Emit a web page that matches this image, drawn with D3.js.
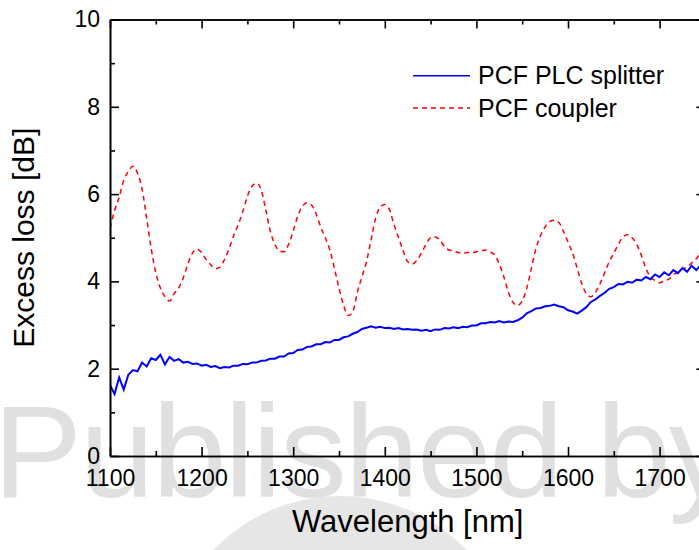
<!DOCTYPE html>
<html>
<head>
<meta charset="utf-8">
<script src="https://cdn.jsdelivr.net/npm/d3@7"></script>
<style>
  body { margin: 0; background: #fff; }
  svg { display: block; font-family: 'Liberation Sans', Arial, Helvetica, sans-serif; }
</style>
</head>
<body>
<div id="wrapper"></div>
<script>
// wavelength grid, 5 nm steps (1100 .. 1750)
const wavelengths = d3.range(1100, 1751, 5)

// PCF PLC splitter, excess loss [dB]
const splitterLoss = [
  1.62, 1.42, 1.80, 1.52, 1.86, 1.97, 1.94, 2.14, 2.05, 2.24,
  2.20, 2.32, 2.10, 2.27, 2.18, 2.22, 2.14, 2.16, 2.11, 2.12,
  2.07, 2.09, 2.04, 2.06, 2.01, 2.04, 2.03, 2.07, 2.07, 2.11,
  2.10, 2.14, 2.14, 2.18, 2.19, 2.23, 2.23, 2.28, 2.28, 2.35,
  2.36, 2.43, 2.44, 2.50, 2.51, 2.56, 2.56, 2.61, 2.60, 2.66,
  2.66, 2.72, 2.74, 2.80, 2.84, 2.91, 2.94, 2.97, 2.94, 2.96,
  2.93, 2.94, 2.91, 2.93, 2.90, 2.91, 2.89, 2.90, 2.87, 2.89,
  2.86, 2.90, 2.89, 2.93, 2.92, 2.95, 2.93, 2.96, 2.95, 2.99,
  2.99, 3.04, 3.04, 3.07, 3.06, 3.09, 3.06, 3.08, 3.07, 3.11,
  3.17, 3.27, 3.32, 3.38, 3.39, 3.43, 3.44, 3.47, 3.43, 3.41,
  3.34, 3.31, 3.26, 3.33, 3.41, 3.53, 3.59, 3.67, 3.74, 3.83,
  3.87, 3.94, 3.93, 3.99, 3.97, 4.04, 4.02, 4.10, 4.05, 4.16,
  4.10, 4.21, 4.14, 4.26, 4.19, 4.31, 4.22, 4.36, 4.26, 4.38,
  4.28
]

// PCF coupler, excess loss [dB]
const couplerLoss = [
  5.22, 5.62, 5.93, 6.32, 6.52, 6.64, 6.48, 6.12, 5.45, 4.75,
  4.20, 3.85, 3.65, 3.55, 3.72, 3.85, 4.08, 4.40, 4.65, 4.74,
  4.66, 4.50, 4.38, 4.29, 4.33, 4.50, 4.75, 5.05, 5.30, 5.60,
  5.95, 6.18, 6.25, 6.10, 5.65, 5.15, 4.85, 4.70, 4.68, 4.85,
  5.15, 5.50, 5.72, 5.80, 5.75, 5.55, 5.25, 5.00, 4.72, 4.30,
  3.85, 3.45, 3.22, 3.30, 3.75, 4.10, 4.45, 4.95, 5.45, 5.70,
  5.76, 5.65, 5.30, 5.00, 4.70, 4.45, 4.40, 4.48, 4.65, 4.85,
  5.00, 5.02, 4.95, 4.80, 4.72, 4.70, 4.66, 4.64, 4.66, 4.65,
  4.68, 4.70, 4.72, 4.68, 4.60, 4.40, 4.10, 3.75, 3.52, 3.45,
  3.55, 3.85, 4.30, 4.75, 5.05, 5.25, 5.37, 5.40, 5.35, 5.15,
  4.90, 4.65, 4.30, 3.95, 3.72, 3.65, 3.75, 3.95, 4.20, 4.45,
  4.65, 4.85, 5.02, 5.07, 5.00, 4.85, 4.60, 4.30, 4.10, 4.02,
  3.97, 4.02, 4.05, 4.16, 4.20, 4.28, 4.33, 4.42, 4.52, 4.62,
  4.55
]

const seriesNames = ['PCF PLC splitter', 'PCF coupler']
const xTicks = [1100, 1200, 1300, 1400, 1500, 1600, 1700]
const yTicks = [0, 2, 4, 6, 8, 10]

const dms = {
  width: 699,
  height: 550,
  margin: { top: 19.5, left: 110 }
}
dms.chartWidth = 595.4
dms.chartHeight = 436.5

const font = "'Liberation Sans', Arial, Helvetica, sans-serif"

const wrapper = d3.select('#wrapper')
  .append('svg')
  .attr('width', dms.width)
  .attr('height', dms.height)

// watermark behind everything
wrapper.append('circle')
  .attr('cx', 340)
  .attr('cy', 672)
  .attr('r', 176)
  .attr('fill', '#e6e6e6')
wrapper.append('text')
  .attr('transform', 'translate(-7, 497) scale(1.02, 1)')
  .attr('fill', '#e0e0e0')
  .style('font-size', '131px')
  .style('letter-spacing', '-2px')
  .text('Published by')

const bounds = wrapper.append('g')
  .attr('transform', `translate(${dms.margin.left}, ${dms.margin.top})`)

const xScale = d3.scaleLinear()
  .domain([1100, 1750])
  .range([0, dms.chartWidth])
const yScale = d3.scaleLinear()
  .domain([0, 10])
  .range([dms.chartHeight, 0])

bounds.append('clipPath')
  .attr('id', 'clip')
  .append('rect')
  .attr('width', dms.chartWidth)
  .attr('height', dms.chartHeight)

const splitterData = wavelengths.map((w, i) => [w, splitterLoss[i]])
const couplerData = wavelengths.map((w, i) => [w, couplerLoss[i]])

const lines = bounds.append('g').attr('clip-path', 'url(#clip)')

lines.append('path')
  .datum(couplerData)
  .attr('fill', 'none')
  .attr('stroke', '#ff0000')
  .attr('stroke-width', 1.5)
  .attr('stroke-dasharray', '5 4')
  .attr('d', d3.line()
    .x(d => xScale(d[0]))
    .y(d => yScale(d[1]))
    .curve(d3.curveMonotoneX))

lines.append('path')
  .datum(splitterData)
  .attr('fill', 'none')
  .attr('stroke', '#0000ff')
  .attr('stroke-width', 2)
  .attr('d', d3.line()
    .x(d => xScale(d[0]))
    .y(d => yScale(d[1])))

// axes, ticks pointing inwards
const styleAxis = g => {
  g.selectAll('path, line').attr('stroke', '#000').attr('stroke-width', 1.6)
  g.selectAll('text').attr('fill', '#000').style('font-size', '23px').style('font-family', font)
}

const xMinor = d3.range(1150, 1750, 100)
const yMinor = [1, 3, 5, 7, 9]

bounds.append('g')
  .attr('transform', `translate(0, ${dms.chartHeight})`)
  .call(d3.axisBottom(xScale).tickValues(xTicks).tickSize(-9).tickSizeOuter(0).tickPadding(14).tickFormat(d3.format('d')))
  .call(styleAxis)
bounds.append('g')
  .attr('transform', `translate(0, ${dms.chartHeight})`)
  .call(d3.axisBottom(xScale).tickValues(xMinor).tickSize(-5).tickSizeOuter(0).tickFormat(''))
  .call(styleAxis)

bounds.append('g')
  .call(d3.axisTop(xScale).tickValues(xTicks).tickSize(-9).tickSizeOuter(0).tickFormat(''))
  .call(styleAxis)
bounds.append('g')
  .call(d3.axisTop(xScale).tickValues(xMinor).tickSize(-5).tickSizeOuter(0).tickFormat(''))
  .call(styleAxis)

bounds.append('g')
  .call(d3.axisLeft(yScale).tickValues(yTicks).tickSize(-9).tickSizeOuter(0).tickPadding(10))
  .call(styleAxis)
bounds.append('g')
  .call(d3.axisLeft(yScale).tickValues(yMinor).tickSize(-5).tickSizeOuter(0).tickFormat(''))
  .call(styleAxis)

bounds.append('g')
  .attr('transform', `translate(${dms.chartWidth}, 0)`)
  .call(d3.axisRight(yScale).tickValues(yTicks).tickSize(-9).tickSizeOuter(0).tickFormat(''))
  .call(styleAxis)

// axis titles
wrapper.append('text')
  .attr('x', dms.margin.left + dms.chartWidth / 2)
  .attr('y', 532)
  .attr('text-anchor', 'middle')
  .style('font-size', '31px')
  .text('Wavelength [nm]')

wrapper.append('text')
  .attr('transform', `translate(34, ${dms.margin.top + dms.chartHeight / 2}) rotate(-90)`)
  .attr('text-anchor', 'middle')
  .style('font-size', '30px')
  .text('Excess loss [dB]')

// legend
const legend = wrapper.append('g')
const legendItems = [
  { name: seriesNames[0], color: '#0000ff', dash: null, y: 75.7 },
  { name: seriesNames[1], color: '#ff0000', dash: '5 4', y: 108 }
]
legendItems.forEach(item => {
  legend.append('line')
    .attr('x1', 413)
    .attr('x2', 470)
    .attr('y1', item.y)
    .attr('y2', item.y)
    .attr('stroke', item.color)
    .attr('stroke-width', 1.5)
    .attr('stroke-dasharray', item.dash)
  legend.append('text')
    .attr('x', 478)
    .attr('y', item.y + 8.5)
    .style('font-size', '25px')
    .text(item.name)
})
</script>
</body>
</html>
